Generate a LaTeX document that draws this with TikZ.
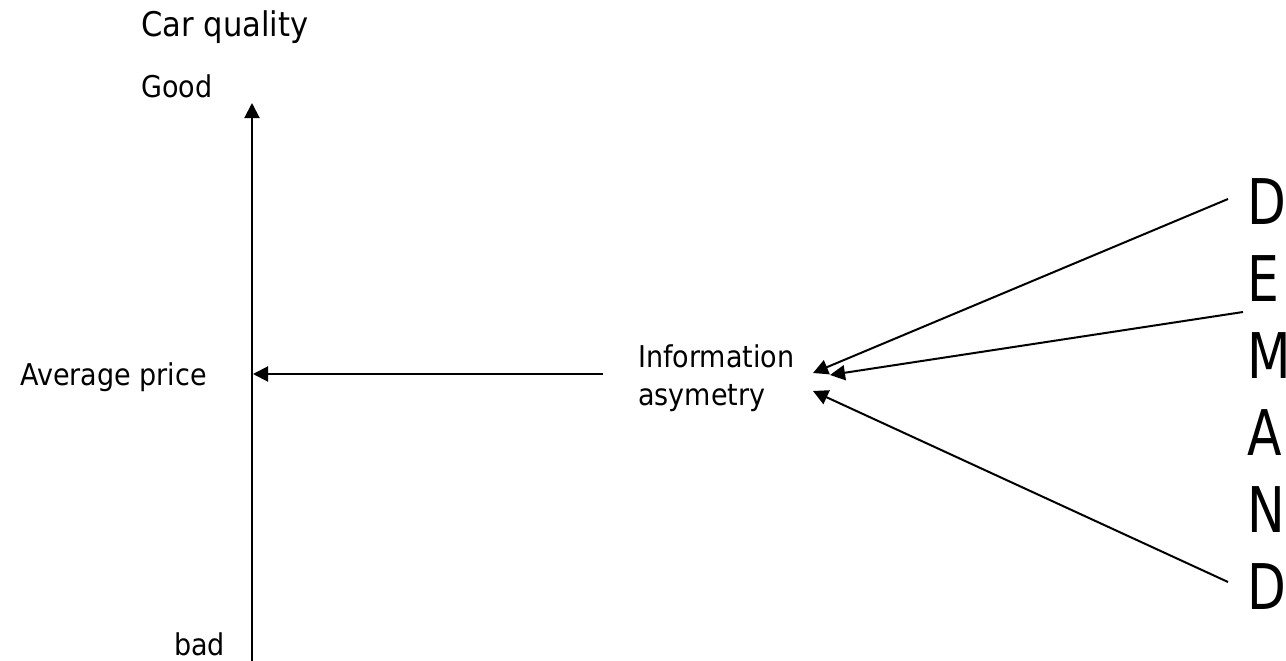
\documentclass[tikz,border=0pt]{standalone}
\usepackage{fontspec}
\setmainfont{DejaVu Sans}[FakeStretch=0.9]
\newfontfamily\demandfont{DejaVu Sans}[FakeStretch=0.8]
\usetikzlibrary{arrows.meta}
\begin{document}
\begin{tikzpicture}[x=1pt,y=-1pt,
  lbl/.style={inner sep=0pt, font=\fontsize{30}{36}\selectfont},
  ttl/.style={inner sep=0pt, font=\fontsize{34}{40}\selectfont},
  big/.style={inner sep=0pt, font=\demandfont\fontsize{63}{76}\selectfont, anchor=base west},
  arr/.style={line width=2pt, -{Triangle[length=15pt,width=15pt]}}]
\useasboundingbox[fill=white] (0,0) rectangle (1286,661);
% texts
\node[ttl, anchor=base west] (title) at (141,37) {Car quality};
\node[lbl, anchor=base west] (good) at (141,97) {Good};
\node[lbl, anchor=base east] (avg) at (207,385) {Average price};
\node[lbl, anchor=base west] (bad) at (174,655) {bad};
\node[lbl, anchor=base west] (info) at (638,367) {Information};
\node[lbl, anchor=base west] (asy) at (638,405) {asymetry};
\foreach \l/\n [count=\i from 0] in {D/d1,E/e,M/m,A/a,N/n,D/d2}
  \node[big] (\n) at (1247,224+77*\i) {\l};
% coordinates
\coordinate (axb) at (252,661);
\coordinate (axt) at (252,103);
\coordinate (hs) at (603,374);
\coordinate (he) at (253,374);
\coordinate (l1s) at (1228,199);
\coordinate (l1e) at (813,373);
\coordinate (l2s) at (1243,312);
\coordinate (l2e) at (830,375);
\coordinate (l3s) at (1228,582);
\coordinate (l3e) at (813,391);
% connectors
\draw[arr] (axb) -- (axt);
\draw[arr] (hs) -- (he);
\draw[arr] (l1s) -- (l1e);
\draw[arr] (l2s) -- (l2e);
\draw[arr] (l3s) -- (l3e);
\end{tikzpicture}
\end{document}
